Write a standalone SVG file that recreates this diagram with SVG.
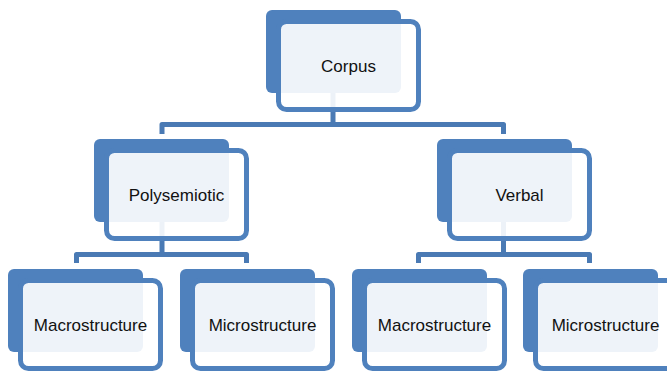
<svg xmlns="http://www.w3.org/2000/svg" width="667" height="372" viewBox="0 0 667 372">
<style>
.back{fill:#4f81bd;}
.front{fill:#ffffff;fill-opacity:0.9;stroke:#4f81bd;stroke-width:5;}
.conn{fill:none;stroke:#4a7ab4;stroke-width:5;stroke-linejoin:round;}
.lbl{font-family:"Liberation Sans",Arial,sans-serif;font-size:17px;fill:#111;text-anchor:middle;}
</style>
<rect width="667" height="372" fill="#ffffff"/>
<g id="connectors">
<path class="conn" d="M162,134 V124.5 H503.5 V134 M333,92 V124.5"/>
<path class="conn" d="M76.5,263 V254.5 H246.5 V263 M162,222 V254.5"/>
<path class="conn" d="M418.5,263 V254.5 H589.5 V263 M503.5,222 V254.5"/>
</g>
<g id="corpus">
<rect class="back" x="266" y="10" width="135" height="83" rx="6"/>
<rect class="front" x="278.5" y="21.5" width="140" height="88" rx="8"/>
<text class="lbl" x="348.5" y="72">Corpus</text>
</g>
<g id="polysemiotic">
<rect class="back" x="94" y="139" width="135" height="83" rx="6"/>
<rect class="front" x="106.5" y="150.5" width="140" height="88" rx="8"/>
<text class="lbl" x="176.5" y="201">Polysemiotic</text>
</g>
<g id="verbal">
<rect class="back" x="437" y="139" width="135" height="83" rx="6"/>
<rect class="front" x="449.5" y="150.5" width="140" height="88" rx="8"/>
<text class="lbl" x="519.5" y="201">Verbal</text>
</g>
<g id="macro1">
<rect class="back" x="8" y="269" width="135" height="83" rx="6"/>
<rect class="front" x="20.5" y="280.5" width="140" height="88" rx="8"/>
<text class="lbl" x="90.5" y="331">Macrostructure</text>
</g>
<g id="micro1">
<rect class="back" x="180" y="269" width="135" height="83" rx="6"/>
<rect class="front" x="192.5" y="280.5" width="140" height="88" rx="8"/>
<text class="lbl" x="262.5" y="331">Microstructure</text>
</g>
<g id="macro2">
<rect class="back" x="352" y="269" width="135" height="83" rx="6"/>
<rect class="front" x="364.5" y="280.5" width="140" height="88" rx="8"/>
<text class="lbl" x="434.5" y="331">Macrostructure</text>
</g>
<g id="micro2">
<rect class="back" x="523" y="269" width="135" height="83" rx="6"/>
<rect class="front" x="535.5" y="280.5" width="140" height="88" rx="8"/>
<text class="lbl" x="605.5" y="331">Microstructure</text>
</g>
</svg>
